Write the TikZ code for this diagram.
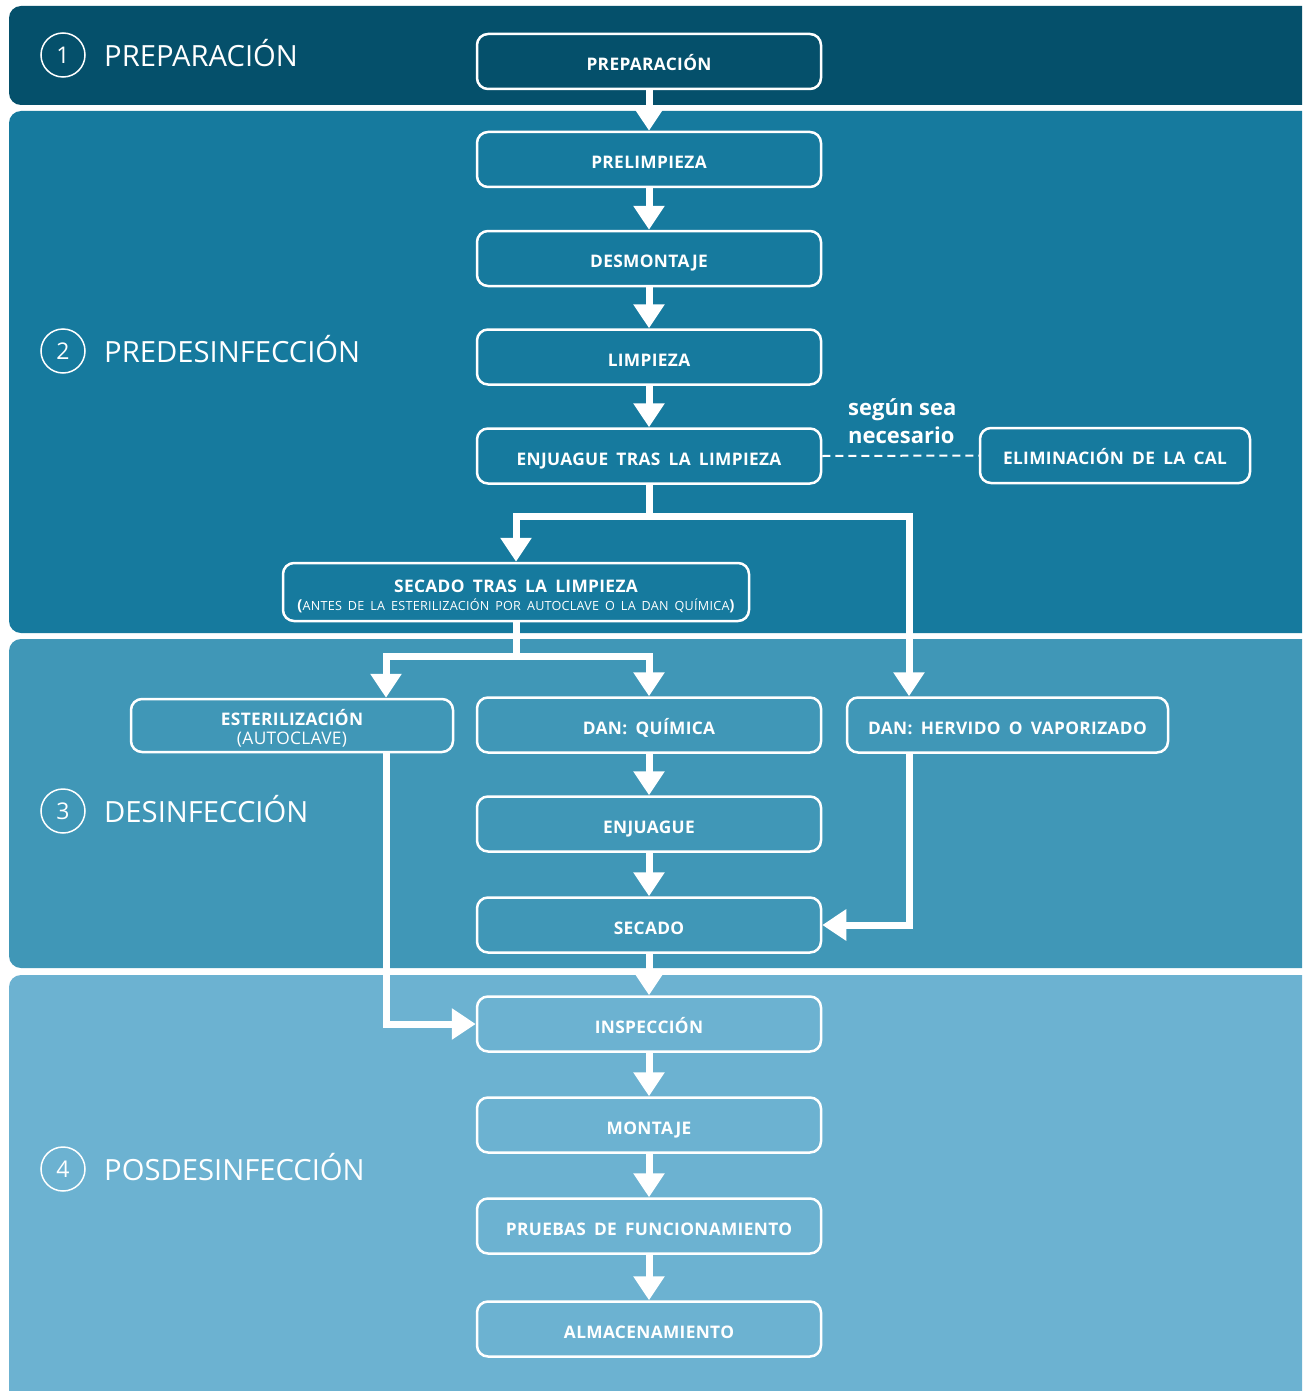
\documentclass[tikz,border=0pt]{standalone}
\usepackage{fontspec}
\setmainfont{Open Sans}
\newfontfamily\boxfont[WordSpace=1.7,LetterSpace=2]{Open Sans}
\usetikzlibrary{arrows.meta,calc}
\definecolor{bandA}{HTML}{05506B}
\definecolor{bandB}{HTML}{167A9E}
\definecolor{bandC}{HTML}{4097B7}
\definecolor{bandD}{HTML}{6CB2D1}
\tikzset{
  boxbase/.style={draw=white, line width=2.5pt, rounded corners=11pt, text=white,
    minimum width=344pt, minimum height=55pt, inner sep=2pt,
    font=\boxfont\bfseries\fontsize{17.3}{20}\selectfont, align=center},
  stepbox/.style={boxbase, text height=18.5pt, text depth=0pt},
  flow/.style={draw=white, line width=7pt,
    -{Triangle[width=30pt,length=24pt]}},
  numcirc/.style={circle, draw=white, line width=1.5pt, minimum size=44pt, inner sep=0pt,
    text=white, font=\fontsize{23}{26}\selectfont},
  sectitle/.style={anchor=base west, text=white, font=\fontsize{29.2}{32}\selectfont, inner sep=0pt},
  band/.style={rounded corners=12pt}
}
\begin{document}
\begin{tikzpicture}[x=1pt,y=-1pt]
\useasboundingbox (0,0) rectangle (1302,1391);
\fill[white] (0,0) rectangle (1302,1391);
\begin{scope}
\clip (0,0) rectangle (1302,1391);
\fill[bandA,band] (9,6) rectangle (1330,105);
\fill[bandB,band] (9,111) rectangle (1330,633);
\fill[bandC,band] (9,639) rectangle (1330,968);
\fill[bandD,band] (9,975) rectangle (1330,1420);
\end{scope}

% section labels
\node[numcirc] (c1) at (63,55) {1};
\node[sectitle] (t1) at (104,66.5) {PREPARACIÓN};
\node[numcirc] (c2) at (63,351) {2};
\node[sectitle] (t2) at (104,362.5) {PREDESINFECCIÓN};
\node[numcirc] (c3) at (63,811) {3};
\node[sectitle] (t3) at (104,822.5) {DESINFECCIÓN};
\node[numcirc] (c4) at (63,1169) {4};
\node[sectitle] (t4) at (104,1180.5) {POSDESINFECCIÓN};

% boxes
\node[stepbox] (prep) at (649,61.5) {PREPARACIÓN};
\node[stepbox] (prel) at (649,159.5) {PRELIMPIEZA};
\node[stepbox] (desm) at (649,258.5) {DESMONTAJE};
\node[stepbox] (limp) at (649,357) {LIMPIEZA};
\node[stepbox] (enjt) at (649,456) {ENJUAGUE TRAS LA LIMPIEZA};
\node[stepbox, minimum width=270pt] (elim) at (1115,455.5) {ELIMINACIÓN DE LA CAL};
\node[boxbase, minimum width=466pt, minimum height=58pt, text height=28pt, text depth=8pt] (secl) at (516,592)
  {\begin{tabular}{@{}c@{}}SECADO TRAS LA LIMPIEZA\\[-2pt]{\fontsize{15}{16}\selectfont(}{\mdseries\fontsize{12.6}{14}\selectfont ANTES DE LA ESTERILIZACIÓN POR AUTOCLAVE O LA DAN QUÍMICA}{\fontsize{15}{16}\selectfont)}\end{tabular}};
\node[boxbase, minimum width=322pt, minimum height=53pt, text height=26pt, text depth=8pt] (ester) at (292,725.5)
  {\begin{tabular}{@{}c@{}}ESTERILIZACIÓN\\[-1pt]{\mdseries (AUTOCLAVE)}\end{tabular}};
\node[stepbox] (quim) at (649,725) {DAN: QUÍMICA};
\node[stepbox, minimum width=321pt] (herv) at (1007.5,725) {DAN: HERVIDO O VAPORIZADO};
\node[stepbox] (enju) at (649,824) {ENJUAGUE};
\node[stepbox] (seca) at (649,925) {SECADO};
\node[stepbox] (insp) at (649,1024) {INSPECCIÓN};
\node[stepbox] (mont) at (649,1125) {MONTAJE};
\node[stepbox] (prue) at (649,1226) {PRUEBAS DE FUNCIONAMIENTO};
\node[stepbox] (alma) at (649,1329) {ALMACENAMIENTO};

% note
\node[anchor=north west, text=white, align=left, inner sep=0pt,
  font=\bfseries\fontsize{22}{28}\selectfont] (note) at (848,398.5) {según sea\\necesario};

% connectors
\draw[flow] (prep) -- (prel);
\draw[flow] (prel) -- (desm);
\draw[flow] (desm) -- (limp);
\draw[flow] (limp) -- (enjt);
\draw[white, line width=2pt, dash pattern=on 8pt off 5pt] (enjt.east) -- (elim.west);

\coordinate (j1) at (649,516);
\coordinate (j2) at (909,516);
\draw[flow] (enjt.south) -- (j1) -| (secl.north);
\draw[flow] (j1) -| (herv.north -| j2);

\coordinate (j3) at (516,656);
\coordinate (ex) at (386,656);
\draw[flow] (secl.south) -- (j3) -| (ester.north -| ex);
\draw[flow] (j3) -| (quim.north);

\draw[flow] (quim) -- (enju);
\draw[flow] (enju) -- (seca);
\draw[flow] (seca) -- (insp);
\draw[flow] (insp) -- (mont);
\draw[flow] (mont) -- (prue);
\draw[flow] (prue) -- (alma);

\draw[flow] (ester.south -| ex) |- (insp.west);
\draw[flow] (herv.south -| j2) |- (seca.east);
\end{tikzpicture}
\end{document}
